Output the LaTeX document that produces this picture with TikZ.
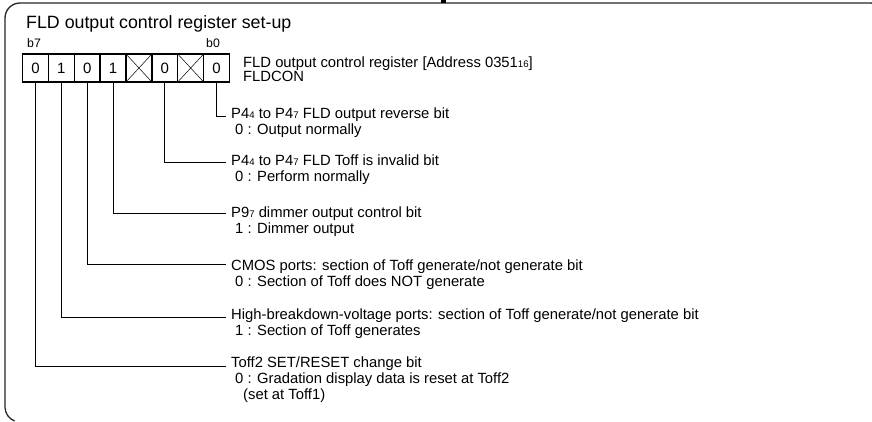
\documentclass[tikz,border=0pt]{standalone}
\usepackage{fontspec}
\setmainfont{Liberation Sans}
\newcommand\lsub[1]{\raisebox{-0.6pt}{\fontsize{9.6}{10}\selectfont #1}}
\begin{document}
\begin{tikzpicture}[x=1pt,y=-1pt,
 bitbox/.style={draw, line width=1.3pt, minimum width=25.9pt, minimum height=28pt, inner sep=0pt, font=\fontsize{15}{15}\selectfont},
 crossbox/.style={bitbox, path picture={\draw[line width=0.5pt] (path picture bounding box.north west) -- (path picture bounding box.south east) (path picture bounding box.north east) -- (path picture bounding box.south west);}},
 desc/.style={anchor=base west, inner sep=0pt, font=\fontsize{14.8}{16}\selectfont},
 bitlabel/.style={anchor=base west, inner sep=0pt, font=\fontsize{12.3}{12}\selectfont},
 leader/.style={draw, line width=0.8pt},
 frame/.style={draw=black!85, line width=1.3pt}]
\useasboundingbox (0,0) rectangle (872,421);
% frame (only the visible part: left side, top-left corner, top edge)
\draw[frame] (14.6,421) arc[start angle=249, end angle=180, radius=15pt]
  -- (5,18) arc[start angle=180, end angle=90, radius=15pt]
  -- (870,3) arc[start angle=90, end angle=82, radius=15pt];
\fill (441,0) rectangle (446,3);
% title
\node[anchor=base west, inner sep=0pt, font=\fontsize{17.8}{18}\selectfont] (title) at (26,28) {FLD output control register set-up};
\node[bitlabel] (lb7) at (27,47) {b7};
\node[bitlabel] (lb0) at (206,47) {b0};
% bit boxes
\node[bitbox] (b7) at (35.44,68) {0};
\node[bitbox] (b6) at (61.31,68) {1};
\node[bitbox] (b5) at (87.19,68) {0};
\node[bitbox] (b4) at (113.06,68) {1};
\node[crossbox] (b3) at (138.94,68) {};
\node[bitbox] (b2) at (164.81,68) {0};
\node[crossbox] (b1) at (190.69,68) {};
\node[bitbox] (b0) at (216.56,68) {0};
% register name
\node[desc] (addr) at (243,67) {FLD output control register [Address 0351\lsub{16}]};
\node[desc] (fldcon) at (243,81) {FLDCON};
% leader end points
\coordinate (e0) at (226,116);
\coordinate (e2) at (226,162);
\coordinate (e4) at (226,213);
\coordinate (e5) at (226,264);
\coordinate (e6) at (226,317);
\coordinate (e7) at (226,366);
\draw[leader] (b0.south) |- (e0);
\draw[leader] (b2.south) |- (e2);
\draw[leader] (b4.south) |- (e4);
\draw[leader] (b5.south) |- (e5);
\draw[leader] (b6.south) |- (e6);
\draw[leader] (b7.south) |- (e7);
% descriptions
\node[desc] (t0) at (231,118) {P4\lsub{4} to P4\lsub{7} FLD output reverse bit};
\node[desc] (v0) at (235,134) {0 : Output normally};
\node[desc] (t2) at (231,165) {P4\lsub{4} to P4\lsub{7} FLD Toff is invalid bit};
\node[desc] (v2) at (235,181) {0 : Perform normally};
\node[desc] (t4) at (231,217) {P9\lsub{7} dimmer output control bit};
\node[desc] (v4) at (235,233) {1 : Dimmer output};
\node[desc] (t5) at (231,270) {CMOS ports: section of Toff generate/not generate bit};
\node[desc] (v5) at (235,286) {0 : Section of Toff does NOT generate};
\node[desc] (t6) at (231,319) {High-breakdown-voltage ports: section of Toff generate/not generate bit};
\node[desc] (v6) at (235,335) {1 : Section of Toff generates};
\node[desc] (t7) at (231,367) {Toff2 SET/RESET change bit};
\node[desc] (v7) at (235,383) {0 : Gradation display data is reset at Toff2};
\node[desc] (w7) at (243,399) {(set at Toff1)};
\end{tikzpicture}
\end{document}
